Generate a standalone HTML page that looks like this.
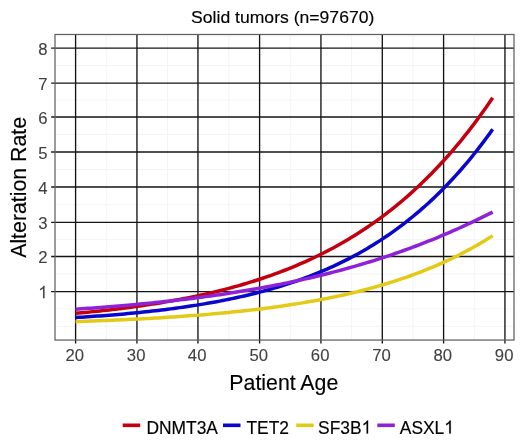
<!DOCTYPE html>
<html><head><meta charset="utf-8"><style>
html,body{margin:0;padding:0;background:#fff;}
body{width:520px;height:442px;overflow:hidden;}
svg{display:block;will-change:transform;}
</style></head><body>
<svg width="520" height="442" viewBox="0 0 520 442">
<style>
text{font-family:"Liberation Sans",sans-serif;}
.tk{font-size:16.7px;fill:#404040;stroke:#404040;stroke-width:0.1px}
.at{font-size:21.3px;fill:#000;stroke:#000;stroke-width:0.15px}
.ti{font-size:17.6px;fill:#000;stroke:#000;stroke-width:0.15px}
.lg{font-size:17.4px;fill:#000;stroke:#000;stroke-width:0.15px}
</style>
<g>
<rect x="0" y="0" width="520" height="442" fill="#fff"/>
<path d="M106.27 34.5V340.05 M167.45 34.5V340.05 M228.78 34.5V340.05 M290.27 34.5V340.05 M351.62 34.5V340.05 M412.95 34.5V340.05 M474.27 34.5V340.05 M55.0 326.26H514.0 M55.0 308.87H514.0 M55.0 274.05H514.0 M55.0 239.40H514.0 M55.0 204.62H514.0 M55.0 169.45H514.0 M55.0 134.47H514.0 M55.0 100.03H514.0 M55.0 65.55H514.0" stroke="#F4F4F4" stroke-width="1" fill="none"/>
<path d="M75.60 34.5V343.45 M136.95 34.5V343.45 M197.95 34.5V343.45 M259.60 34.5V343.45 M320.95 34.5V343.45 M382.30 34.5V343.45 M443.60 34.5V343.45 M504.95 34.5V343.45 M51.2 48.05H514.0 M51.2 83.05H514.0 M51.2 117.00H514.0 M51.2 151.95H514.0 M51.2 186.95H514.0 M51.2 222.30H514.0 M51.2 256.50H514.0 M51.2 291.60H514.0" stroke="#000" stroke-opacity="0.92" stroke-width="1.35" fill="none"/>
<rect x="55.0" y="34.5" width="459.0" height="305.55" stroke="#606060" stroke-width="1.25" fill="none"/>
<polyline points="75.52,321.60 78.59,321.50 81.66,321.39 84.73,321.29 87.79,321.18 90.86,321.07 93.93,320.95 97.00,320.84 100.06,320.72 103.13,320.60 106.20,320.47 109.27,320.34 112.33,320.21 115.40,320.08 118.47,319.95 121.53,319.81 124.60,319.66 127.67,319.52 130.74,319.37 133.80,319.22 136.87,319.06 139.94,318.91 143.01,318.74 146.07,318.58 149.14,318.41 152.21,318.24 155.28,318.06 158.34,317.88 161.41,317.70 164.48,317.51 167.54,317.31 170.61,317.12 173.68,316.92 176.75,316.71 179.81,316.50 182.88,316.28 185.95,316.06 189.02,315.84 192.08,315.61 195.15,315.37 198.22,315.13 201.28,314.89 204.35,314.64 207.42,314.38 210.49,314.12 213.55,313.85 216.62,313.58 219.69,313.30 222.76,313.01 225.82,312.72 228.89,312.42 231.96,312.11 235.03,311.80 238.09,311.48 241.16,311.15 244.23,310.82 247.29,310.48 250.36,310.13 253.43,309.77 256.50,309.41 259.56,309.04 262.63,308.66 265.70,308.27 268.77,307.87 271.83,307.46 274.90,307.05 277.97,306.62 281.04,306.19 284.10,305.74 287.17,305.29 290.24,304.83 293.30,304.35 296.37,303.87 299.44,303.37 302.51,302.87 305.57,302.35 308.64,301.82 311.71,301.28 314.78,300.73 317.84,300.16 320.91,299.59 323.98,299.00 327.05,298.39 330.11,297.78 333.18,297.15 336.25,296.50 339.31,295.85 342.38,295.17 345.45,294.49 348.52,293.78 351.58,293.07 354.65,292.33 357.72,291.58 360.79,290.82 363.85,290.03 366.92,289.23 369.99,288.41 373.05,287.58 376.12,286.72 379.19,285.85 382.26,284.95 385.32,284.04 388.39,283.11 391.46,282.15 394.53,281.18 397.59,280.18 400.66,279.17 403.73,278.13 406.80,277.06 409.86,275.98 412.93,274.87 416.00,273.73 419.06,272.57 422.13,271.39 425.20,270.18 428.27,268.94 431.33,267.67 434.40,266.38 437.47,265.06 440.54,263.71 443.60,262.33 446.67,260.92 449.74,259.48 452.81,258.01 455.87,256.50 458.94,254.96 462.01,253.39 465.07,251.79 468.14,250.14 471.21,248.47 474.28,246.75 477.34,245.00 480.41,243.21 483.48,241.39 486.55,239.52 489.61,237.61 492.68,235.66" stroke="#E3CA16" stroke-width="3.5" fill="none" stroke-linejoin="round"/>
<polyline points="75.52,317.55 78.59,317.36 81.66,317.17 84.73,316.97 87.79,316.76 90.86,316.55 93.93,316.34 97.00,316.12 100.06,315.90 103.13,315.67 106.20,315.43 109.27,315.19 112.33,314.94 115.40,314.69 118.47,314.43 121.53,314.16 124.60,313.89 127.67,313.61 130.74,313.32 133.80,313.03 136.87,312.72 139.94,312.42 143.01,312.10 146.07,311.78 149.14,311.44 152.21,311.10 155.28,310.76 158.34,310.40 161.41,310.03 164.48,309.66 167.54,309.28 170.61,308.88 173.68,308.48 176.75,308.07 179.81,307.64 182.88,307.21 185.95,306.77 189.02,306.31 192.08,305.85 195.15,305.37 198.22,304.88 201.28,304.38 204.35,303.87 207.42,303.34 210.49,302.80 213.55,302.25 216.62,301.68 219.69,301.11 222.76,300.51 225.82,299.90 228.89,299.28 231.96,298.64 235.03,297.99 238.09,297.32 241.16,296.64 244.23,295.93 247.29,295.21 250.36,294.48 253.43,293.72 256.50,292.95 259.56,292.16 262.63,291.35 265.70,290.52 268.77,289.67 271.83,288.80 274.90,287.91 277.97,286.99 281.04,286.06 284.10,285.10 287.17,284.12 290.24,283.12 293.30,282.09 296.37,281.04 299.44,279.96 302.51,278.86 305.57,277.73 308.64,276.58 311.71,275.39 314.78,274.18 317.84,272.94 320.91,271.68 323.98,270.38 327.05,269.05 330.11,267.69 333.18,266.30 336.25,264.87 339.31,263.42 342.38,261.93 345.45,260.40 348.52,258.84 351.58,257.24 354.65,255.61 357.72,253.94 360.79,252.23 363.85,250.48 366.92,248.69 369.99,246.86 373.05,244.99 376.12,243.08 379.19,241.12 382.26,239.12 385.32,237.08 388.39,234.98 391.46,232.85 394.53,230.66 397.59,228.43 400.66,226.14 403.73,223.81 406.80,221.42 409.86,218.98 412.93,216.49 416.00,213.94 419.06,211.34 422.13,208.68 425.20,205.96 428.27,203.19 431.33,200.35 434.40,197.45 437.47,194.50 440.54,191.47 443.60,188.39 446.67,185.24 449.74,182.02 452.81,178.74 455.87,175.38 458.94,171.96 462.01,168.47 465.07,164.90 468.14,161.26 471.21,157.54 474.28,153.75 477.34,149.89 480.41,145.94 483.48,141.92 486.55,137.81 489.61,133.62 492.68,129.35" stroke="#0A06CC" stroke-width="3.5" fill="none" stroke-linejoin="round"/>
<polyline points="75.52,313.33 78.59,313.05 81.66,312.77 84.73,312.47 87.79,312.17 90.86,311.87 93.93,311.56 97.00,311.24 100.06,310.91 103.13,310.58 106.20,310.24 109.27,309.89 112.33,309.53 115.40,309.17 118.47,308.80 121.53,308.42 124.60,308.03 127.67,307.64 130.74,307.23 133.80,306.82 136.87,306.39 139.94,305.96 143.01,305.52 146.07,305.07 149.14,304.61 152.21,304.13 155.28,303.65 158.34,303.16 161.41,302.66 164.48,302.14 167.54,301.62 170.61,301.08 173.68,300.53 176.75,299.97 179.81,299.40 182.88,298.81 185.95,298.21 189.02,297.60 192.08,296.98 195.15,296.34 198.22,295.69 201.28,295.02 204.35,294.34 207.42,293.65 210.49,292.94 213.55,292.21 216.62,291.47 219.69,290.72 222.76,289.94 225.82,289.15 228.89,288.35 231.96,287.52 235.03,286.68 238.09,285.82 241.16,284.95 244.23,284.05 247.29,283.13 250.36,282.20 253.43,281.24 256.50,280.27 259.56,279.27 262.63,278.25 265.70,277.21 268.77,276.15 271.83,275.07 274.90,273.96 277.97,272.83 281.04,271.68 284.10,270.50 287.17,269.29 290.24,268.07 293.30,266.81 296.37,265.53 299.44,264.22 302.51,262.89 305.57,261.53 308.64,260.14 311.71,258.72 314.78,257.27 317.84,255.79 320.91,254.28 323.98,252.73 327.05,251.16 330.11,249.56 333.18,247.92 336.25,246.24 339.31,244.54 342.38,242.79 345.45,241.02 348.52,239.20 351.58,237.35 354.65,235.46 357.72,233.53 360.79,231.57 363.85,229.56 366.92,227.51 369.99,225.42 373.05,223.29 376.12,221.12 379.19,218.90 382.26,216.64 385.32,214.33 388.39,211.98 391.46,209.58 394.53,207.13 397.59,204.63 400.66,202.08 403.73,199.48 406.80,196.84 409.86,194.13 412.93,191.38 416.00,188.57 419.06,185.71 422.13,182.79 425.20,179.81 428.27,176.78 431.33,173.68 434.40,170.53 437.47,167.32 440.54,164.04 443.60,160.70 446.67,157.29 449.74,153.83 452.81,150.29 455.87,146.69 458.94,143.01 462.01,139.27 465.07,135.46 468.14,131.57 471.21,127.62 474.28,123.58 477.34,119.48 480.41,115.29 483.48,111.03 486.55,106.68 489.61,102.26 492.68,97.76" stroke="#C4000E" stroke-width="3.5" fill="none" stroke-linejoin="round"/>
<polyline points="75.52,309.21 78.59,309.01 81.66,308.80 84.73,308.59 87.79,308.37 90.86,308.15 93.93,307.93 97.00,307.71 100.06,307.48 103.13,307.24 106.20,307.00 109.27,306.76 112.33,306.52 115.40,306.26 118.47,306.01 121.53,305.75 124.60,305.49 127.67,305.22 130.74,304.94 133.80,304.67 136.87,304.38 139.94,304.10 143.01,303.80 146.07,303.51 149.14,303.20 152.21,302.90 155.28,302.58 158.34,302.27 161.41,301.94 164.48,301.61 167.54,301.28 170.61,300.94 173.68,300.59 176.75,300.24 179.81,299.88 182.88,299.52 185.95,299.15 189.02,298.77 192.08,298.39 195.15,298.00 198.22,297.61 201.28,297.21 204.35,296.80 207.42,296.38 210.49,295.96 213.55,295.53 216.62,295.09 219.69,294.65 222.76,294.20 225.82,293.74 228.89,293.28 231.96,292.80 235.03,292.32 238.09,291.84 241.16,291.34 244.23,290.84 247.29,290.32 250.36,289.80 253.43,289.27 256.50,288.74 259.56,288.19 262.63,287.63 265.70,287.07 268.77,286.50 271.83,285.92 274.90,285.32 277.97,284.72 281.04,284.11 284.10,283.50 287.17,282.87 290.24,282.23 293.30,281.58 296.37,280.92 299.44,280.25 302.51,279.57 305.57,278.88 308.64,278.18 311.71,277.47 314.78,276.75 317.84,276.02 320.91,275.27 323.98,274.52 327.05,273.75 330.11,272.97 333.18,272.18 336.25,271.38 339.31,270.57 342.38,269.74 345.45,268.90 348.52,268.06 351.58,267.19 354.65,266.32 357.72,265.43 360.79,264.53 363.85,263.62 366.92,262.69 369.99,261.75 373.05,260.80 376.12,259.83 379.19,258.86 382.26,257.86 385.32,256.85 388.39,255.83 391.46,254.80 394.53,253.75 397.59,252.69 400.66,251.61 403.73,250.52 406.80,249.41 409.86,248.29 412.93,247.15 416.00,246.00 419.06,244.83 422.13,243.65 425.20,242.45 428.27,241.24 431.33,240.01 434.40,238.77 437.47,237.51 440.54,236.23 443.60,234.94 446.67,233.64 449.74,232.31 452.81,230.97 455.87,229.62 458.94,228.25 462.01,226.86 465.07,225.46 468.14,224.03 471.21,222.60 474.28,221.14 477.34,219.67 480.41,218.19 483.48,216.68 486.55,215.16 489.61,213.63 492.68,212.07" stroke="#8E22D6" stroke-width="3.5" fill="none" stroke-linejoin="round"/>
<text transform="translate(47.6 54.65) scale(1 1.04)" text-anchor="end" class="tk">8</text>
<text transform="translate(47.6 89.65) scale(1 1.04)" text-anchor="end" class="tk">7</text>
<text transform="translate(47.6 123.60) scale(1 1.04)" text-anchor="end" class="tk">6</text>
<text transform="translate(47.6 158.55) scale(1 1.04)" text-anchor="end" class="tk">5</text>
<text transform="translate(47.6 193.55) scale(1 1.04)" text-anchor="end" class="tk">4</text>
<text transform="translate(47.6 228.90) scale(1 1.04)" text-anchor="end" class="tk">3</text>
<text transform="translate(47.6 263.10) scale(1 1.04)" text-anchor="end" class="tk">2</text>
<path transform="translate(47.60 298.20) scale(1 1.04) translate(-9.288 0) scale(0.00815 -0.00815)" d="M763 0L583 0L583 1147C540 1106 483 1064 413 1023C343 982 280 951 223 930L223 1104C323 1151 411 1208 486 1275C561 1342 614 1407 645 1466L763 1466Z" fill="#404040" stroke="#404040" stroke-width="12.3"/>
<text transform="translate(74.80 361) scale(1 1.04)" text-anchor="middle" class="tk">20</text>
<text transform="translate(136.15 361) scale(1 1.04)" text-anchor="middle" class="tk">30</text>
<text transform="translate(197.15 361) scale(1 1.04)" text-anchor="middle" class="tk">40</text>
<text transform="translate(258.80 361) scale(1 1.04)" text-anchor="middle" class="tk">50</text>
<text transform="translate(320.15 361) scale(1 1.04)" text-anchor="middle" class="tk">60</text>
<text transform="translate(381.50 361) scale(1 1.04)" text-anchor="middle" class="tk">70</text>
<text transform="translate(442.80 361) scale(1 1.04)" text-anchor="middle" class="tk">80</text>
<text transform="translate(504.15 361) scale(1 1.04)" text-anchor="middle" class="tk">90</text>
<text transform="translate(283.8 389.9) scale(1 1.04)" text-anchor="middle" class="at">Patient Age</text>
<text transform="translate(25.8 187.4) rotate(-90) scale(1 1.04)" text-anchor="middle" class="at">Alteration Rate</text>
<text transform="translate(282.7 22.9) scale(1 0.98)" text-anchor="middle" class="ti">Solid tumors (n=97670)</text>
<line x1="122.7" y1="425.3" x2="140.2" y2="425.3" stroke="#C4000E" stroke-width="3.6"/>
<text transform="translate(146.4 433.5) scale(1 1.04)" class="lg">DNMT3A</text>
<line x1="223" y1="425.3" x2="240.5" y2="425.3" stroke="#0A06CC" stroke-width="3.6"/>
<text transform="translate(246.4 433.5) scale(1 1.04)" class="lg">TET2</text>
<line x1="296.2" y1="425.3" x2="313.7" y2="425.3" stroke="#E3CA16" stroke-width="3.6"/>
<text transform="translate(318.1 433.5) scale(1 1.04)" class="lg">SF3B</text>
<path transform="translate(318.10 433.50) scale(1 1.04) translate(43.517 0) scale(0.00850 -0.00850)" d="M763 0L583 0L583 1147C540 1106 483 1064 413 1023C343 982 280 951 223 930L223 1104C323 1151 411 1208 486 1275C561 1342 614 1407 645 1466L763 1466Z" fill="#000" stroke="#000" stroke-width="17.7"/>
<line x1="377.3" y1="425.3" x2="394.8" y2="425.3" stroke="#8E22D6" stroke-width="3.6"/>
<text transform="translate(399.8 433.5) scale(1 1.04)" class="lg">ASXL</text>
<path transform="translate(399.80 433.50) scale(1 1.04) translate(44.494 0) scale(0.00850 -0.00850)" d="M763 0L583 0L583 1147C540 1106 483 1064 413 1023C343 982 280 951 223 930L223 1104C323 1151 411 1208 486 1275C561 1342 614 1407 645 1466L763 1466Z" fill="#000" stroke="#000" stroke-width="17.7"/>
</g>
</svg>
</body></html>
